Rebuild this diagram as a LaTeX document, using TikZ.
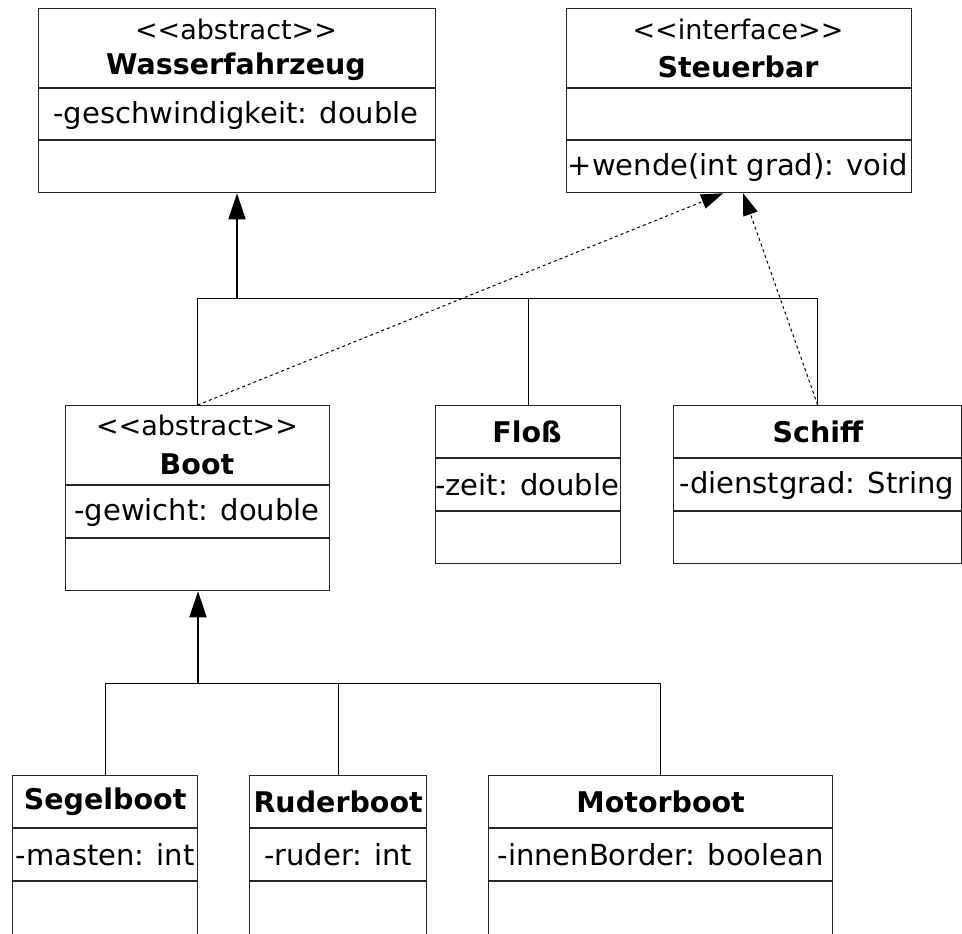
\documentclass[tikz,border=0pt]{standalone}
\usepackage{fontspec}
\setmainfont{DejaVu Sans}
\usetikzlibrary{arrows.meta, positioning, calc}
\tikzset{
  classbox/.style = {draw=black!85, line width=1.3pt, anchor=north west, inner sep=0pt},
  sepline/.style  = {draw=black!85, line width=1.3pt},
  inherit/.style  = {-{Triangle[length=26pt, width=17pt]}, line width=1.8pt},
  branch/.style   = {line width=1pt},
  realize/.style  = {-{Triangle[length=22pt, width=15pt]}, line width=1pt,
                     dash pattern=on 3pt off 3pt},
  stereo/.style   = {font=\fontsize{27}{30}\selectfont, inner sep=0pt},
  cname/.style    = {font=\fontsize{28.5}{30}\selectfont\bfseries, inner sep=0pt},
  member/.style   = {font=\fontsize{29}{30}\selectfont, inner sep=0pt},
}

\begin{document}
\begin{tikzpicture}[x=1pt, y=-1pt]
  \useasboundingbox (0,0) rectangle (962,934);
  \clip (0,0) rectangle (962,934);

  % abstract base class and interface
  \node[classbox, minimum width=397pt, minimum height=184pt] (was) at (38,8) {};
  \draw[sepline] (38,88) -- (435,88) (38,140) -- (435,140);
  \node[stereo] (wasS) at (236,29) {<\kern0pt<abstract>\kern0pt>};
  \node[cname]  (wasN) at (236,67) {Wasserfahrzeug};
  \node[member] (wasA) at (236,115) {-geschwindigkeit: double};

  \node[classbox, minimum width=345pt, minimum height=184pt] (steu) at (566,8) {};
  \draw[sepline] (566,88) -- (911,88) (566,140) -- (911,140);
  \node[stereo] (steuS) at (738,29) {<\kern0pt<interface>\kern0pt>};
  \node[cname]  (steuN) at (738,67) {Steuerbar};
  \node[member] (steuO) at (738,167) {+wende(int grad): void};

  % middle row
  \node[classbox, minimum width=264pt, minimum height=185pt] (boot) at (65,405) {};
  \draw[sepline] (65,485) -- (329,485) (65,538) -- (329,538);
  \node[stereo] (bootS) at (197,425) {<\kern0pt<abstract>\kern0pt>};
  \node[cname]  (bootN) at (197,464) {Boot};
  \node[member] (bootA) at (197,512) {-gewicht: double};

  \node[classbox, minimum width=185pt, minimum height=158pt] (flos) at (435,405) {};
  \draw[sepline] (435,458) -- (620,458) (435,511) -- (620,511);
  \node[cname]  (flosN) at (527,432) {Floß};
  \node[member] (flosA) at (527,485) {-zeit: double};

  \node[classbox, minimum width=288pt, minimum height=158pt] (schiff) at (673,405) {};
  \draw[sepline] (673,458) -- (961,458) (673,511) -- (961,511);
  \node[cname]  (schiffN) at (818,432) {Schiff};
  \node[member] (schiffA) at (817,485) {-dienstgrad: String};

  % bottom row (cut off by the page)
  \foreach \nm/\xx/\ww/\lab/\att in {sgl/12/185/Segelboot/-masten: int,
                                     rud/249/177/Ruderboot/-ruder: int,
                                     mot/488/344/Motorboot/-innenBorder: boolean} {
    \node[classbox, minimum width=\ww pt, minimum height=200pt] (\nm) at (\xx,775) {};
    \draw[sepline] (\xx,828) -- ++(\ww,0) (\xx,881) -- ++(\ww,0);
    \node[cname]  (\nm N) at ($(\nm.north)+(0,-27pt)$) {\lab};
    \node[member] (\nm A) at ($(\nm.north)+(0,-80pt)$) {\att};
  }

  % generalisation Wasserfahrzeug
  \coordinate (j1) at (237,298);
  \draw[branch] (boot.north) |- (schiff.north |- j1) -- (schiff.north);
  \draw[branch] (flos.north) -- (flos.north |- j1);
  \draw[inherit] (j1) -- (was.south -| j1);

  % generalisation Boot
  \coordinate (j2) at (198,683);
  \draw[branch] (sgl.north) |- (mot.north |- j2) -- (mot.north);
  \draw[branch] (rud.north) -- (rud.north |- j2);
  \draw[inherit] (j2) -- (boot.south -| j2);

  % realisation Steuerbar
  \draw[realize] (boot.north) -- ([xshift=-16pt]steu.south);
  \draw[realize] (schiff.north) -- ([xshift=4pt]steu.south);
\end{tikzpicture}
\end{document}
